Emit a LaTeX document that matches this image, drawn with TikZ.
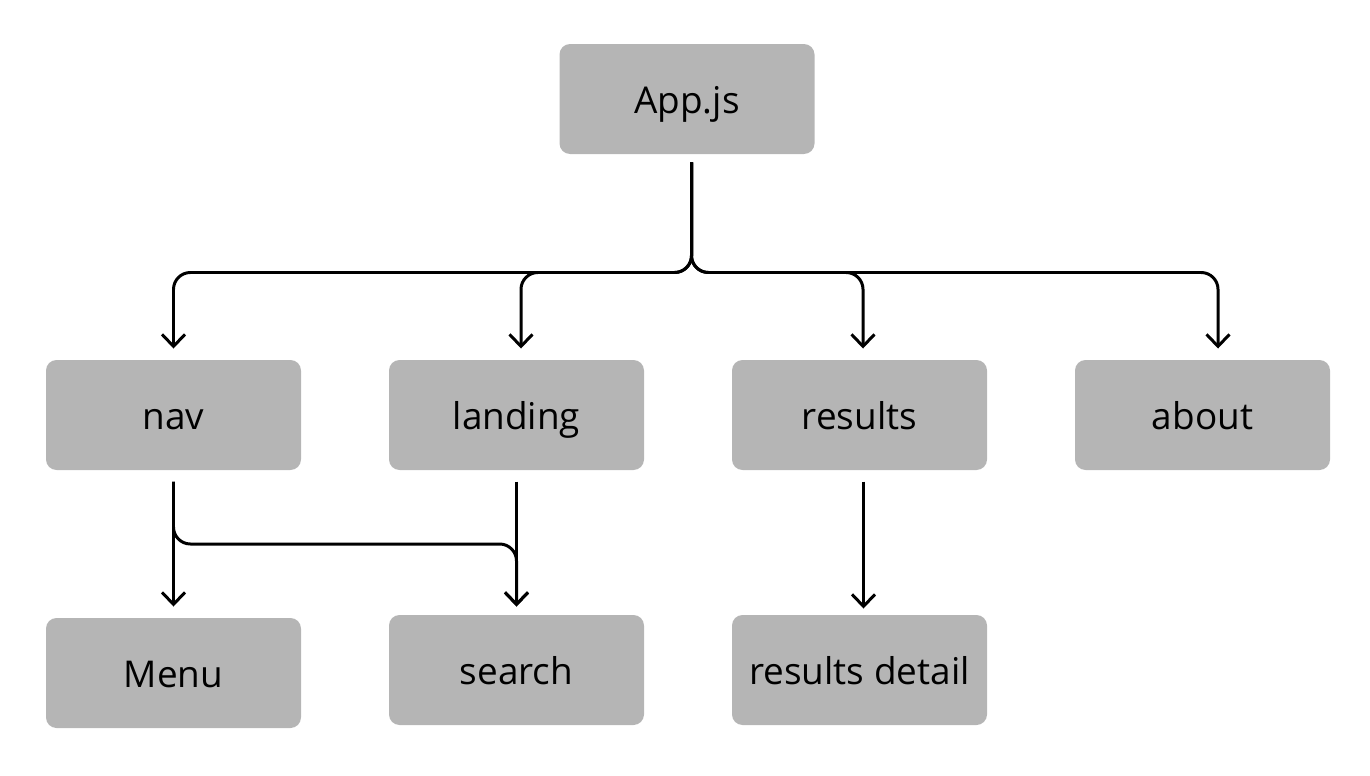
\documentclass[tikz,border=0pt]{standalone}
\usepackage{fontspec}
\setmainfont{Open Sans}
\usetikzlibrary{arrows.meta, positioning}
\definecolor{cbox}{HTML}{B5B5B5}
\definecolor{cline}{HTML}{000000}
\tikzset{
  every picture/.style={line width=1.7pt},
  box/.style={fill=cbox, rounded corners=6pt, align=center, minimum width=5.1cm, minimum height=2.2cm, text height=0.6cm, text depth=0.04cm, font=\fontsize{21}{25}\selectfont},
  arrow/.style={-{Straight Barb[length=2.4mm, width=4.6mm]}, draw=cline, rounded corners=9.6pt, shorten >=0.2cm, shorten <=0.2cm},
}

\begin{document}
\begin{tikzpicture}
  \useasboundingbox (0,0) rectangle (27.4,-15.5);

  % root
  \node[box] (app) at (13.74,-1.98) {App.js};
  \coordinate (bus) at (13.83,-5.45);

  % pages
  \node[box] (nav)     at (3.47,-8.3)  {nav};
  \node[box] (landing) at (10.33,-8.3) {landing};
  \node[box] (results) at (17.19,-8.3) {results};
  \node[box] (about)   at (24.05,-8.3) {about};
  \foreach \p/\dx in {nav/0, landing/0.09, results/0.07, about/0.31}
    \draw[arrow, shorten <=0.14cm] ([xshift=0.09cm]app.south) -- (bus) -| ([xshift=\dx cm]\p.north);

  % children
  \node[box] (menu)   at (3.47,-13.46) {Menu};
  \node[box] (search) at (10.33,-13.4) {search};
  \node[box] (detail) at (17.19,-13.4) {results detail};
  \coordinate (join) at (3.47,-10.88);
  \draw[arrow] (nav.south) -- (menu.north);
  \draw[arrow, shorten >=0.14cm] (nav.south) -- (join) -| (search.north);
  \draw[arrow, shorten >=0.14cm] (landing.south) -- (search.north);
  \draw[arrow, shorten >=0.1cm] ([xshift=0.08cm]results.south) -- ([xshift=0.08cm]detail.north);
\end{tikzpicture}
\end{document}
